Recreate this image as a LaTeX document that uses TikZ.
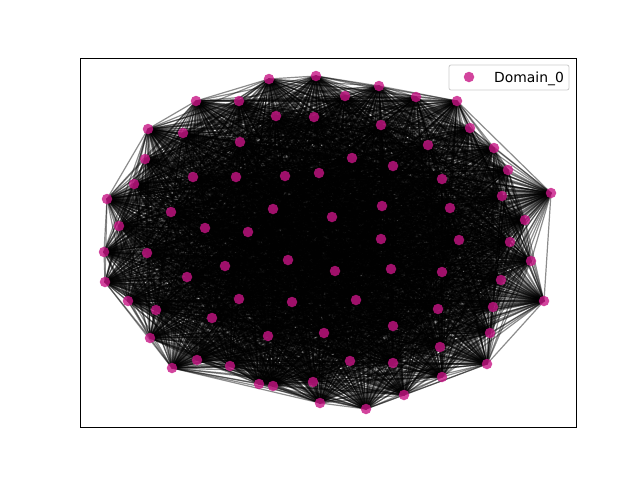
\documentclass[tikz,border=0pt]{standalone}
\usepackage{fontspec}
\setmainfont{DejaVu Sans}
\definecolor{nodecol}{HTML}{C71585}
\begin{document}
\begin{tikzpicture}[x=1pt,y=-1pt,
  edge/.style={draw=black,line width=1.2pt,opacity=0.45},
  dot/.style={circle,fill=nodecol,fill opacity=0.8,draw=none,minimum size=10.5pt,inner sep=0pt},
  legendbox/.style={draw=black!20,fill=white,fill opacity=0.8,rounded corners=2pt,line width=0.8pt}]
\useasboundingbox (0,0) rectangle (640,480);
\foreach \x/\y [count=\k] in {
269/79,316/76,379/86,345/96,416/97,457/101,196/101,239/101,148/129,183/133,
276/116,314/117,381/125,470/128,494/148,428/145,240/142,352/158,393/166,508/170,
551/193,442/179,145/159,134/184,193/177,236/177,285/176,319/173,107/199,171/212,
273/209,332/217,382/206,450/208,525/220,502/196,119/226,205/228,248/232,381/239,
459/240,510/242,104/252,147/253,288/260,335/271,391/269,442/272,531/261,105/282,
187/277,225/266,501/280,128/301,156/310,239/299,292/302,356/300,544/301,493/307,
438/309,212/318,393/326,324/333,268/336,150/338,490/333,440/347,487/364,197/360,
230/366,172/368,350/361,393/363,442/377,259/384,273/386,313/382,320/403,366/409,
404/395}
  \coordinate (c\k) at (\x,\y);
\foreach \i in {1,...,80}{
  \pgfmathtruncatemacro\s{\i+1}
  \foreach \j in {\s,...,81}
    \draw[edge] (c\i) -- (c\j);
}
\foreach \k in {1,...,81}
  \node[dot] (n\k) at (c\k) {};
\draw[line width=0.9pt] (80,58) rectangle (576,427);
\draw[legendbox] (449,65) rectangle (569,90);
\node[dot] (legdot) at (469,77) {};
\node[anchor=base west,inner sep=0pt,font=\fontsize{13.9}{16}\selectfont] (legtext) at (494,82) {Domain\_0};
\end{tikzpicture}
\end{document}
